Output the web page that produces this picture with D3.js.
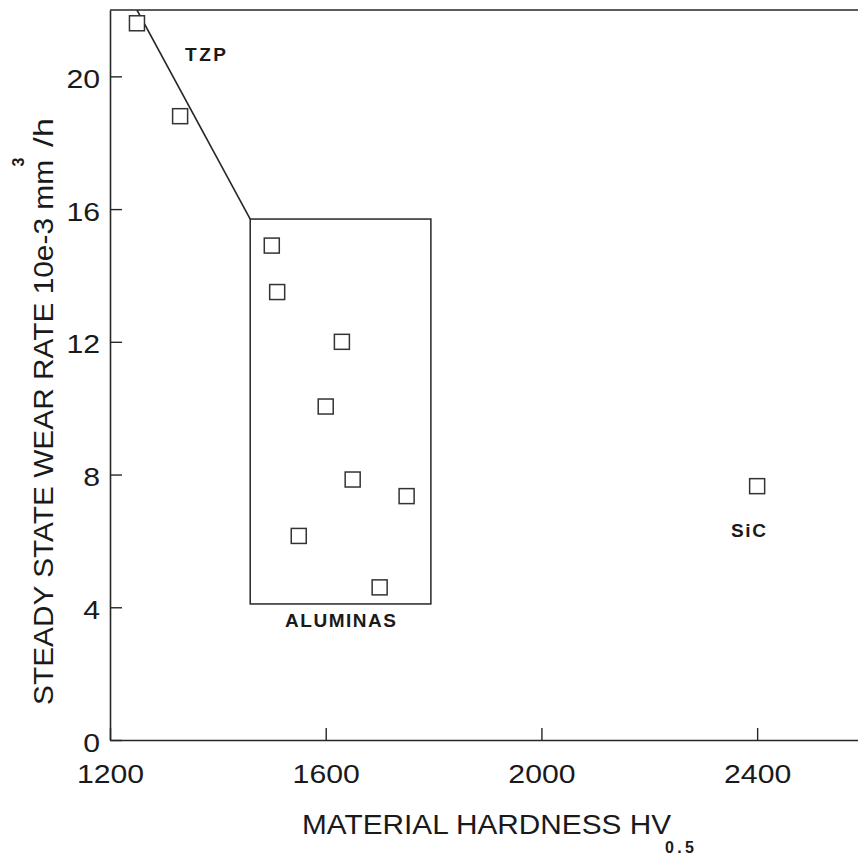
<!DOCTYPE html>
<html>
<head>
<meta charset="utf-8">
<script src="https://cdn.jsdelivr.net/npm/d3@7"></script>
<style>
  html, body { margin: 0; padding: 0; background: #fff; }
  svg { display: block; }
  text { font-family: "Liberation Sans", Arial, Helvetica, sans-serif; fill: #1a1a1a; }
</style>
</head>
<body>
<svg id="chart" width="858" height="860"></svg>
<script>
// Steady state wear rate against material hardness
const xTicks = [1200, 1600, 2000, 2400];
const yTicks = [0, 4, 8, 12, 16, 20];

const tzpHardness = [1250, 1330];
const tzpWear = [21.6, 18.8];

const aluminaHardness = [1500, 1510, 1630, 1600, 1650, 1750, 1550, 1700];
const aluminaWear = [14.9, 13.5, 12.0, 10.05, 7.85, 7.35, 6.15, 4.6];

const sicHardness = [2400];
const sicWear = [7.65];

// envelope drawn round the alumina group and the TZP trend line
const aluminaBoxHardness = [1460, 1795];
const aluminaBoxWear = [4.1, 15.7];
const tzpTrendHardness = [1460, 1250];
const tzpTrendWear = [15.7, 22];

const svg = d3.select("#chart");
const x = d3.scaleLinear().domain([1200, 2600]).range([110, 865]);
const y = d3.scaleLinear().domain([0, 22]).range([740, 10]);

const ink = "#262626";

svg.append("defs").append("clipPath").attr("id", "plotClip")
  .append("rect")
  .attr("x", x(1200)).attr("y", y(22))
  .attr("width", x(2600) - x(1200)).attr("height", y(0) - y(22));

// frame: top edge
svg.append("line")
  .attr("x1", x(1200)).attr("x2", x(2600))
  .attr("y1", y(22)).attr("y2", y(22))
  .attr("stroke", ink).attr("stroke-width", 1.6);

// axes with inward ticks
const digitW = 16.8;
const xAxis = svg.append("g")
  .attr("transform", `translate(0,${y(0)})`)
  .call(d3.axisBottom(x).tickValues(xTicks).tickFormat(d3.format("d"))
    .tickSizeInner(-12).tickSizeOuter(0).tickPadding(0));
xAxis.select(".domain").attr("stroke", ink).attr("stroke-width", 1.6);
xAxis.selectAll(".tick line").attr("stroke", ink).attr("stroke-width", 1.4);
xAxis.selectAll(".tick text")
  .attr("y", 43).attr("dy", 0)
  .attr("font-size", 26).attr("fill", "#1a1a1a")
  .attr("font-family", "Liberation Sans, Arial, sans-serif")
  .each(function () {
    const t = d3.select(this);
    t.attr("textLength", digitW * t.text().length).attr("lengthAdjust", "spacingAndGlyphs");
  });

const yAxis = svg.append("g")
  .attr("transform", `translate(${x(1200)},0)`)
  .call(d3.axisLeft(y).tickValues(yTicks).tickFormat(d3.format("d"))
    .tickSizeInner(-12).tickSizeOuter(0).tickPadding(10));
yAxis.select(".domain").attr("stroke", ink).attr("stroke-width", 1.6);
yAxis.selectAll(".tick line").attr("stroke", ink).attr("stroke-width", 1.4);
yAxis.selectAll(".tick text")
  .attr("dy", 11)
  .attr("font-size", 26).attr("fill", "#1a1a1a")
  .attr("font-family", "Liberation Sans, Arial, sans-serif")
  .each(function () {
    const t = d3.select(this);
    t.attr("textLength", digitW * t.text().length).attr("lengthAdjust", "spacingAndGlyphs");
  });

const plot = svg.append("g").attr("clip-path", "url(#plotClip)");

// TZP trend line
plot.append("line")
  .attr("x1", x(tzpTrendHardness[0])).attr("y1", y(tzpTrendWear[0]))
  .attr("x2", x(tzpTrendHardness[1])).attr("y2", y(tzpTrendWear[1]))
  .attr("stroke", ink).attr("stroke-width", 1.6);

// alumina envelope
plot.append("rect")
  .attr("x", x(aluminaBoxHardness[0]))
  .attr("y", y(aluminaBoxWear[1]))
  .attr("width", x(aluminaBoxHardness[1]) - x(aluminaBoxHardness[0]))
  .attr("height", y(aluminaBoxWear[0]) - y(aluminaBoxWear[1]))
  .attr("fill", "none").attr("stroke", ink).attr("stroke-width", 1.5);

// square markers
const pts = [];
tzpHardness.forEach((h, i) => pts.push([h, tzpWear[i]]));
aluminaHardness.forEach((h, i) => pts.push([h, aluminaWear[i]]));
sicHardness.forEach((h, i) => pts.push([h, sicWear[i]]));
const s = 15;
plot.selectAll("rect.pt").data(pts).join("rect")
  .attr("class", "pt")
  .attr("x", d => x(d[0]) - s / 2)
  .attr("y", d => y(d[1]) - s / 2)
  .attr("width", s).attr("height", s)
  .attr("fill", "#fff").attr("stroke", "#333").attr("stroke-width", 1.5);

// group labels
svg.append("text").attr("x", 185).attr("y", 61)
  .attr("font-size", 19).attr("font-weight", "bold")
  .attr("textLength", 41).attr("lengthAdjust", "spacing").text("TZP");
svg.append("text").attr("x", 285).attr("y", 627)
  .attr("font-size", 19).attr("font-weight", "bold")
  .attr("textLength", 111).attr("lengthAdjust", "spacing").text("ALUMINAS");
svg.append("text").attr("x", 731).attr("y", 537)
  .attr("font-size", 19).attr("font-weight", "bold")
  .attr("textLength", 35).attr("lengthAdjust", "spacing").text("SiC");

// x axis title with subscript
svg.append("text").attr("x", 302).attr("y", 834)
  .attr("font-size", 27)
  .attr("textLength", 369).attr("lengthAdjust", "spacingAndGlyphs")
  .text("MATERIAL HARDNESS HV");
svg.append("text").attr("x", 665).attr("y", 853)
  .attr("font-size", 16).attr("font-weight", "bold")
  .attr("textLength", 29).attr("lengthAdjust", "spacing")
  .text("0.5");

// y axis title with superscript
svg.append("text").attr("transform", "translate(53,705) rotate(-90)")
  .attr("font-size", 28)
  .attr("textLength", 545).attr("lengthAdjust", "spacingAndGlyphs")
  .text("STEADY STATE WEAR RATE 10e-3 mm");
svg.append("text").attr("transform", "translate(24,162) rotate(-90)")
  .attr("font-size", 16).attr("font-weight", "bold").attr("text-anchor", "middle")
  .text("3");
svg.append("text").attr("transform", "translate(53,147) rotate(-90)")
  .attr("font-size", 28)
  .attr("textLength", 29).attr("lengthAdjust", "spacingAndGlyphs")
  .text("/h");
</script>
</body>
</html>
